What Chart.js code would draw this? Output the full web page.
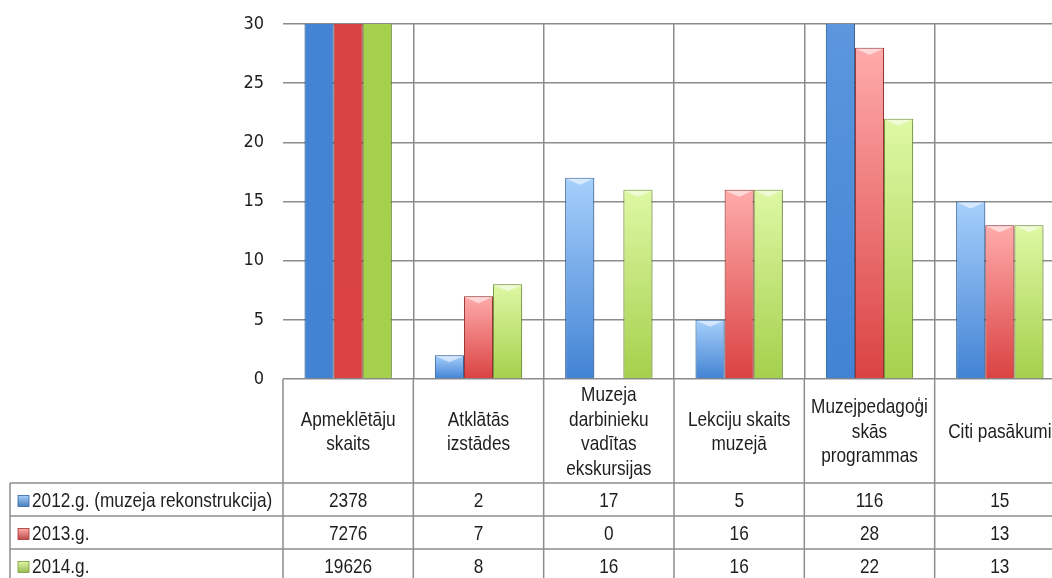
<!DOCTYPE html>
<html><head><meta charset="utf-8">
<script src="https://cdn.jsdelivr.net/npm/chart.js@4/dist/chart.umd.min.js"></script>
<style>
html,body{margin:0;padding:0;background:#fff;overflow:hidden;}
#wrap{position:relative;width:1066px;height:578px;}
</style></head><body>
<div id="wrap"><canvas id="c"></canvas></div>
<script>
// ---- data ----
const categories = [
  ["Apmeklētāju","skaits"],
  ["Atklātās","izstādes"],
  ["Muzeja","darbinieku","vadītas","ekskursijas"],
  ["Lekciju skaits","muzejā"],
  ["Muzejpedagoģi","skās","programmas"],
  ["Citi pasākumi"]
];
const seriesNames = ["2012.g. (muzeja rekonstrukcija)", "2013.g.", "2014.g."];
const values2012 = [2378, 2, 17, 5, 116, 15];
const values2013 = [7276, 7, 0, 16, 28, 13];
const values2014 = [19626, 8, 16, 16, 22, 13];
const yTicks = [0, 5, 10, 15, 20, 25, 30];

// ---- styles ----
const FONT = '"Liberation Sans Narrow", "Arial Narrow", "Liberation Sans", sans-serif';
const NARROW = 0.82;
const styles = [
  {top:'#a6cffb', bottom:'#4283d4', border:'#2f64a8', mark:'#4a7ebb'},
  {top:'#ffabab', bottom:'#da4242', border:'#a63030', mark:'#be4b48'},
  {top:'#def8a4', bottom:'#a5d04c', border:'#789c34', mark:'#98b954'}
];

function grad(s){
  return (c) => {
    const chart = c.chart;
    if (!chart.chartArea || c.type !== 'data') return s.bottom;
    const y = chart.scales.y;
    const y0 = y.getPixelForValue(0), y1 = y.getPixelForValue(c.raw);
    if (!(y0 - y1 > 1)) return s.bottom;
    const g = chart.ctx.createLinearGradient(0, y1, 0, y0);
    g.addColorStop(0, s.top);
    g.addColorStop(1, s.bottom);
    return g;
  };
}

const seriesValues = [values2012, values2013, values2014];
const datasets = seriesValues.map((vals, i) => ({
  label: seriesNames[i],
  data: vals,
  backgroundColor: grad(styles[i]),
  borderColor: styles[i].border,
  borderWidth: 1,
  borderSkipped: 'start',
  barPercentage: 1,
  categoryPercentage: 0.67
}));

const shadowPlugin = {
  id: 'barShadow',
  beforeDatasetsDraw(chart){
    const ctx = chart.ctx;
    ctx.save();
    ctx.shadowColor = 'rgba(0,0,0,0.3)';
    ctx.shadowBlur = 6;
    ctx.shadowOffsetX = 1;
    ctx.shadowOffsetY = 1;
  },
  afterDatasetsDraw(chart){
    const ctx = chart.ctx;
    ctx.restore();
    const ca = chart.chartArea;
    ctx.save();
    chart.data.datasets.forEach((ds, di) => {
      const meta = chart.getDatasetMeta(di);
      meta.data.forEach(el => {
        const p = el.getProps(['x','y','base','width'], true);
        const h = p.base - p.y;
        if (h < 8 || p.y < ca.top + 1) return;
        const w = p.width;
        ctx.beginPath();
        ctx.moveTo(p.x - w/2 + 1, p.y + 1);
        ctx.lineTo(p.x + w/2 - 1, p.y + 1);
        ctx.lineTo(p.x, p.y + 7);
        ctx.closePath();
        ctx.fillStyle = 'rgba(255,255,255,0.55)';
        ctx.fill();
      });
    });
    ctx.restore();
  }
};

function narrowText(ctx, t, x, y, align){
  ctx.save();
  ctx.translate(x, y);
  ctx.scale(NARROW, 1);
  ctx.textAlign = align;
  ctx.fillText(t, 0, 0);
  ctx.restore();
}

const tablePlugin = {
  id: 'dataTable',
  afterDraw(chart){
    const ctx = chart.ctx, ca = chart.chartArea;
    const n = categories.length;
    const colW = (ca.right - ca.left) / n;
    const top = ca.bottom;
    const headH = 104, rowH = 33, tableLeft = 10;
    const bottom = top + headH + seriesNames.length * rowH;
    ctx.save();
    ctx.strokeStyle = '#8c8c8c';
    ctx.lineWidth = 1.5;
    const line = (x1,y1,x2,y2) => { ctx.beginPath(); ctx.moveTo(x1,y1); ctx.lineTo(x2,y2); ctx.stroke(); };
    for (let i = 0; i <= n; i++) {
      const xx = ca.left + i * colW;
      line(xx, top, xx, bottom);
    }
    for (let r = 0; r <= seriesNames.length; r++) {
      const yy = top + headH + r * rowH;
      line(tableLeft, yy, ca.right, yy);
    }
    line(tableLeft, top + headH, tableLeft, bottom);

    ctx.fillStyle = '#1e1e1e';
    ctx.textBaseline = 'middle';
    ctx.font = '21px ' + FONT;
    const lh = 24.5;
    categories.forEach((lines, i) => {
      const cx = ca.left + (i + 0.5) * colW;
      const cy = top + headH / 2 + 1;
      lines.forEach((t, k) => {
        narrowText(ctx, t, cx, cy + (k - (lines.length - 1) / 2) * lh, 'center');
      });
    });
    seriesValues.forEach((vals, r) => {
      const cy = top + headH + (r + 0.5) * rowH + 2;
      vals.forEach((v, i) => {
        narrowText(ctx, String(v), ca.left + (i + 0.5) * colW, cy, 'center');
      });
      const s = styles[r];
      const g = ctx.createLinearGradient(0, cy - 6, 0, cy + 5);
      g.addColorStop(0, s.top); g.addColorStop(1, s.mark);
      ctx.fillStyle = g;
      ctx.fillRect(18, cy - 6, 11, 11);
      ctx.strokeStyle = s.border; ctx.lineWidth = 0.8;
      ctx.strokeRect(18, cy - 6, 11, 11);
      ctx.fillStyle = '#1e1e1e';
      narrowText(ctx, seriesNames[r], 32, cy, 'left');
    });
    ctx.restore();
  }
};

new Chart(document.getElementById('c'), {
  type: 'bar',
  data: { labels: categories.map(c => c.join(' ')), datasets },
  options: {
    responsive: true,
    maintainAspectRatio: false,
    animation: false,
    layout: { padding: { top: 24, right: 1, left: 0, bottom: 0 } },
    plugins: { legend: { display: false }, tooltip: { enabled: false } },
    scales: {
      x: {
        ticks: { display: false },
        grid: {
          offset: true,
          drawTicks: false,
          lineWidth: 1.5,
          color: c => c.index === 0 ? 'rgba(0,0,0,0)' : '#8c8c8c'
        },
        border: { display: false },
        afterFit: s => { s.height = 199; }
      },
      y: {
        min: 0, max: 30,
        afterBuildTicks: s => { s.ticks = yTicks.map(v => ({ value: v })); },
        ticks: { padding: 3, color: '#1e1e1e', font: { family: '"DejaVu Sans Condensed", ' + FONT, size: 18 } },
        grid: { drawTicks: true, tickLength: 16, tickColor: 'rgba(0,0,0,0)', lineWidth: 1.5, color: '#8c8c8c' },
        border: { display: false },
        afterFit: s => { s.width = 283; }
      }
    }
  },
  plugins: [shadowPlugin, tablePlugin]
});
</script>
</body></html>
